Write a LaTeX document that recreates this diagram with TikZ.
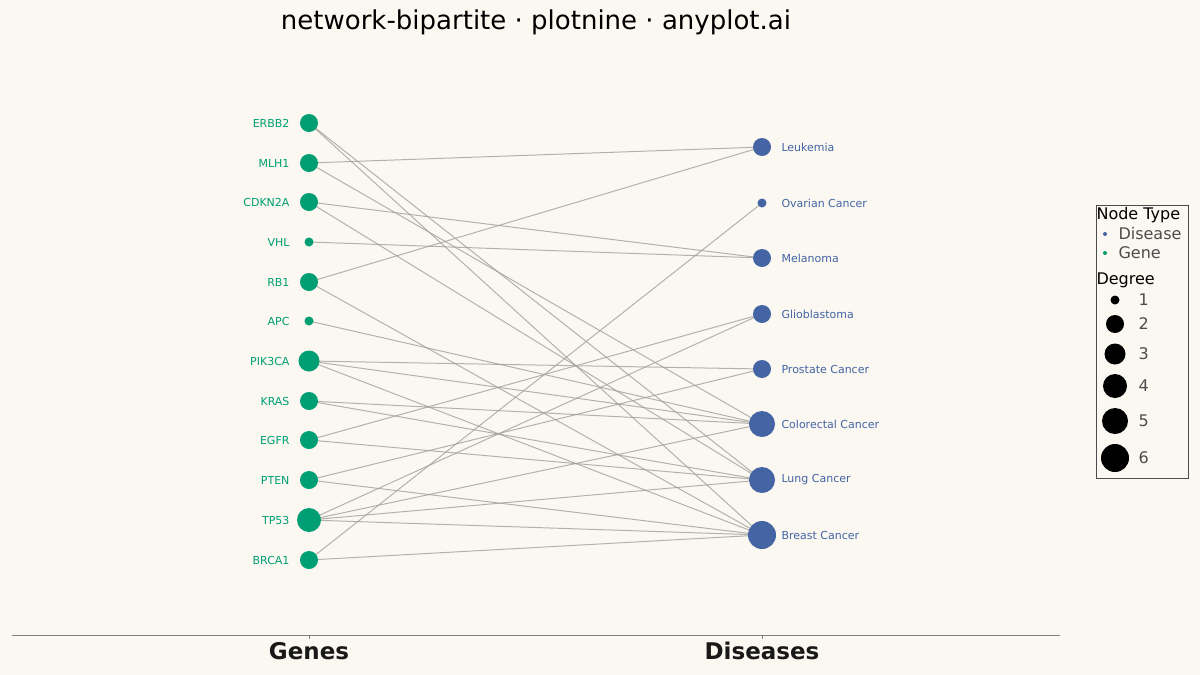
\documentclass[tikz,border=0pt]{standalone}
\usepackage{fontspec}
\setmainfont{DejaVu Sans}
\usetikzlibrary{backgrounds}
\definecolor{bgcol}{HTML}{FAF8F1}
\definecolor{genecol}{HTML}{009E73}
\definecolor{discol}{HTML}{4464A4}
\definecolor{edgecol}{HTML}{A0A09A}
\begin{document}
\begin{tikzpicture}[x=1pt,y=-1pt]
        % Styles
        \tikzstyle{edge}=[edgecol,line width=1pt,opacity=0.8]
        \tikzstyle{gene}=[circle,fill=genecol,inner sep=0pt]
        \tikzstyle{disease}=[circle,fill=discol,inner sep=0pt]
        \tikzstyle{gene label}=[text=genecol,font=\fontsize{11}{13}\selectfont,anchor=east]
        \tikzstyle{disease label}=[text=discol,font=\fontsize{11}{13}\selectfont,anchor=west]
        \tikzstyle{key}=[circle,fill=black,inner sep=0pt]
        \tikzstyle{legend text}=[anchor=west,font=\fontsize{16}{19}\selectfont,text=black!70]
        \useasboundingbox (0,0) rectangle (1200,675);
        \node (title) at (536,22) {\fontsize{26}{31}\selectfont network-bipartite · plotnine · anyplot.ai};
        %genes
        \foreach \g/\y/\r in {ERBB2/123/18,MLH1/163/18,CDKN2A/202/18,VHL/242/9,RB1/282/18,APC/321/9,PIK3CA/361/21,KRAS/401/18,EGFR/440/18,PTEN/480/18,TP53/520/24,BRCA1/560/18}
            \node[gene,minimum size=\r pt] (\g) at (309,\y) {} node[gene label] at (293,\y) {\g};
        %diseases
        \foreach \d/\t/\y/\r in {leuk/Leukemia/147/18,ovar/Ovarian Cancer/203/9,mela/Melanoma/258/18,glio/Glioblastoma/314/18,pros/Prostate Cancer/369/18,colo/Colorectal Cancer/424/26,lung/Lung Cancer/480/26,brea/Breast Cancer/535/28}
            \node[disease,minimum size=\r pt] (\d) at (762,\y) {} node[disease label] at (778,\y) {\t};
        %background and edges
        \begin{scope}[on background layer]
        \fill[bgcol] (0,0) rectangle (1200,675);
        \foreach \a/\b in {ERBB2/lung,ERBB2/brea,MLH1/leuk,MLH1/colo,CDKN2A/mela,CDKN2A/lung,VHL/mela,RB1/leuk,RB1/brea,APC/colo,PIK3CA/pros,PIK3CA/colo,PIK3CA/brea,KRAS/colo,KRAS/lung,EGFR/glio,EGFR/lung,PTEN/pros,PTEN/brea,TP53/glio,TP53/colo,TP53/lung,TP53/brea,BRCA1/ovar,BRCA1/brea}
            \draw[edge] (\a.center) -- (\b.center);
        \end{scope}
        %axis
        \draw[gray,line width=0.6pt] (12,635) coordinate (axl) -- (1060,635) coordinate (axr);
        \draw[gray] (309,635) -- (309,639);
        \draw[gray] (762,635) -- (762,639);
        \node[font=\fontsize{23}{27}\selectfont\bfseries,text=black!90] (genesax) at (309,651) {Genes};
        \node[font=\fontsize{23}{27}\selectfont\bfseries,text=black!90] (disax) at (762,651) {Diseases};
        %legend
        \draw[black!70,fill=bgcol,line width=0.8pt] (1096,205) rectangle (1188,478);
        \node[legend text,text=black] (ltype) at (1093,215) {Node Type};
        \fill[discol] (1105,234) circle (2pt);
        \node[legend text] (ldis) at (1115,234) {Disease};
        \fill[genecol] (1105,253) circle (2pt);
        \node[legend text] (lgene) at (1115,253) {Gene};
        \node[legend text,text=black] (ldeg) at (1093,280) {Degree};
        \foreach \k/\y/\r in {1/300/4.5,2/324/9,3/354/10.5,4/386/12,5/421/13,6/458/14}
            \node[key,minimum size=2*\r pt] (key\k) at (1115,\y) {} node[legend text] at (1135,\y) {\k};
\end{tikzpicture}
\end{document}
